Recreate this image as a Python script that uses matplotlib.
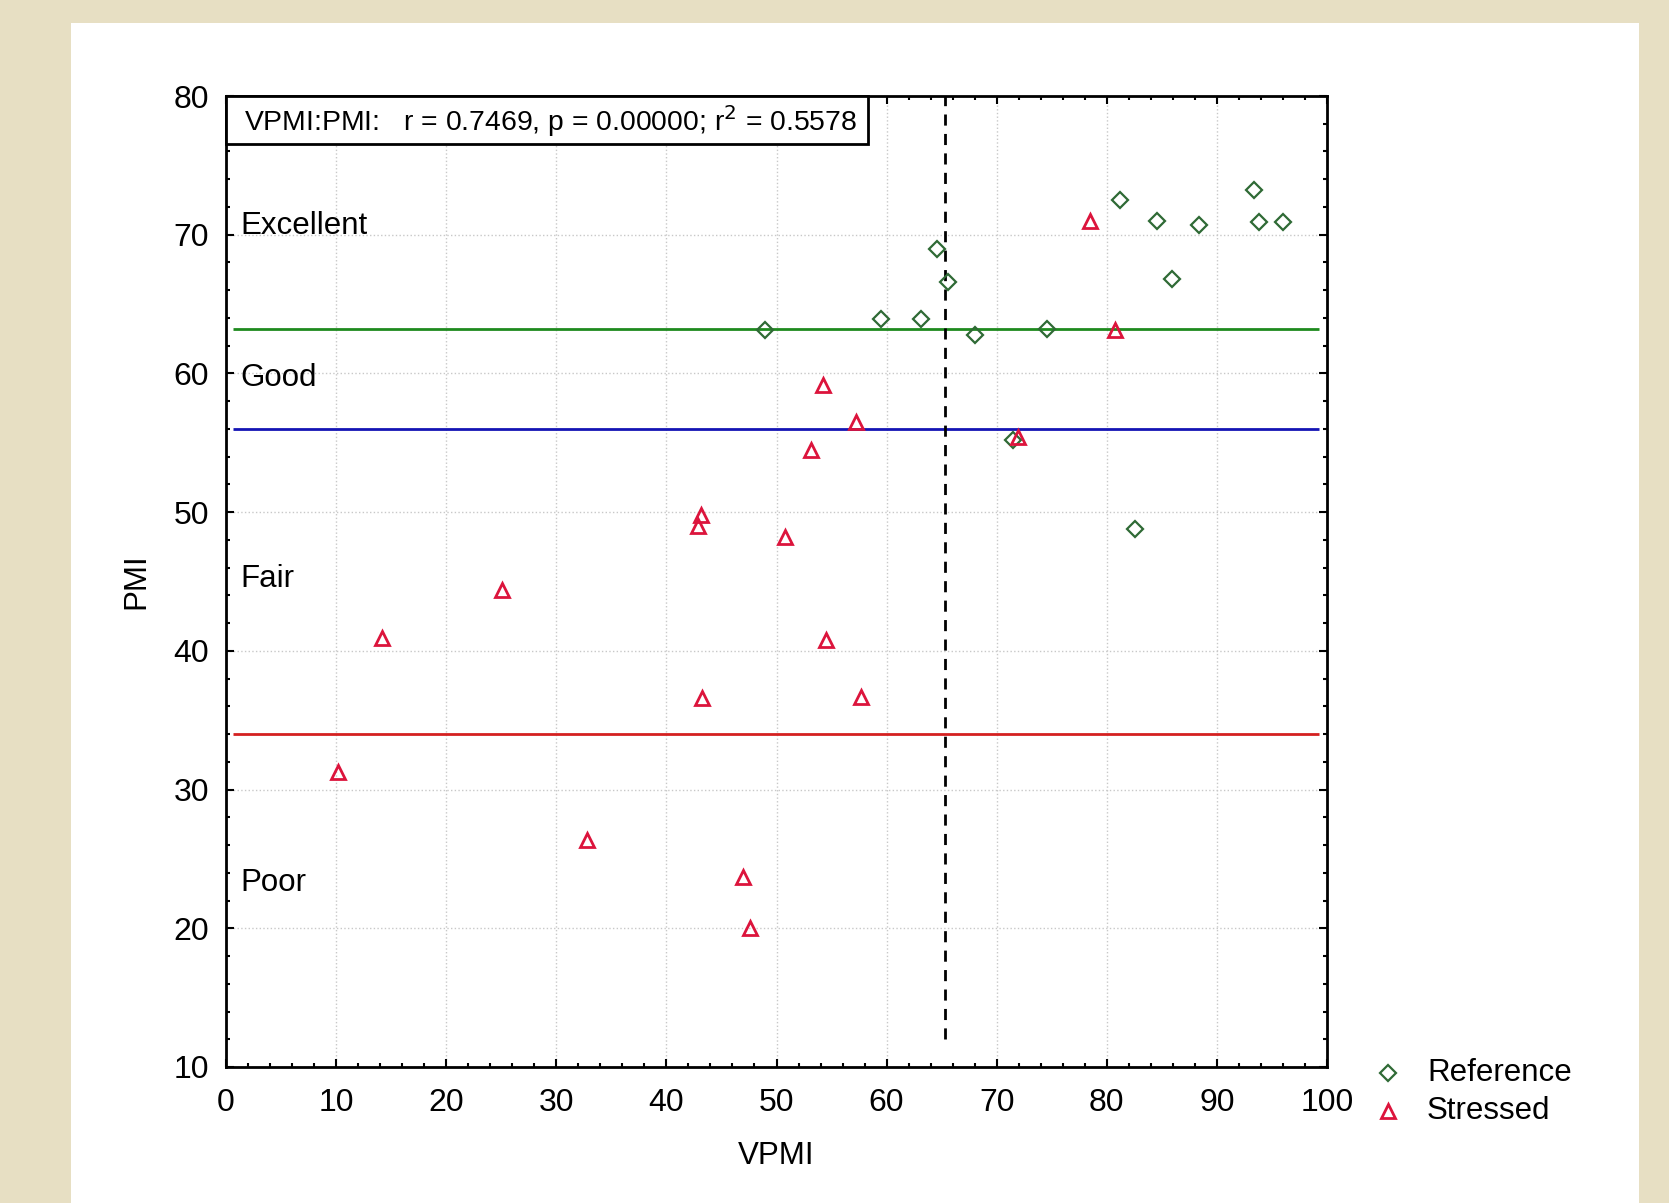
import matplotlib
matplotlib.use('Agg')
import matplotlib.pyplot as plt
from matplotlib.patches import Rectangle
from matplotlib.ticker import MultipleLocator

plt.rcParams['font.family'] = ['Liberation Sans', 'DejaVu Sans']

# Reference sites (VPMI, PMI)
ref_x = [49.0, 59.5, 63.1, 64.6, 65.6, 68.0, 74.6, 81.2, 84.6, 85.9, 88.4, 93.4, 93.8, 96.0, 82.6, 71.5]
ref_y = [63.1, 63.9, 63.9, 69.0, 66.6, 62.8, 63.2, 72.5, 71.0, 66.8, 70.7, 73.2, 70.9, 70.9, 48.8, 55.2]

# Stressed sites (VPMI, PMI)
str_x = [78.5, 80.7, 54.2, 57.2, 53.1, 71.9, 43.1, 42.9, 50.8, 25.1, 14.2, 54.5, 43.2, 57.7, 10.2, 32.8, 47.0, 47.6]
str_y = [71.0, 63.1, 59.2, 56.5, 54.5, 55.4, 49.8, 49.0, 48.2, 44.4, 40.9, 40.8, 36.6, 36.7, 31.3, 26.4, 23.7, 20.0]

# class thresholds
excellent_line = 63.2
good_line = 56.0
fair_line = 34.0
vpmi_cut = 65.3

class_names = ['Excellent', 'Good', 'Fair', 'Poor']
class_y = [70.6, 59.7, 45.2, 23.3]

stats_text = 'VPMI:PMI:   r = 0.7469, p = 0.00000; r$^2$ = 0.5578'

fig = plt.figure(figsize=(16.69, 12.03), dpi=100, facecolor='#E7DFC3')
fig.patches.append(Rectangle((71 / 1669, 0), (1639 - 71) / 1669, 1 - 23 / 1203,
                             transform=fig.transFigure, facecolor='white',
                             edgecolor='none', zorder=-10))

ax = fig.add_axes([226 / 1669, 1 - 1067 / 1203, (1327 - 226) / 1669, (1067 - 96) / 1203])
ax.set_facecolor('white')

ax.set_xlim(0, 100)
ax.set_ylim(10, 80)
ax.xaxis.set_major_locator(MultipleLocator(10))
ax.yaxis.set_major_locator(MultipleLocator(10))
ax.xaxis.set_minor_locator(MultipleLocator(2))
ax.yaxis.set_minor_locator(MultipleLocator(2))
ax.tick_params(which='both', direction='in', top=True, right=True, labelsize=23, width=1.5)
ax.tick_params(which='major', length=6)
ax.tick_params(axis='x', which='major', pad=15)
ax.tick_params(axis='y', which='major', pad=12)
ax.tick_params(which='minor', length=3)
for s in ax.spines.values():
    s.set_linewidth(2)
ax.grid(True, which='major', linestyle=':', color='#c8c8c8', linewidth=1)

ax.hlines(excellent_line, 0.6, 99.3, color='#1E8A1E', linewidth=2, zorder=2)
ax.hlines(good_line, 0.6, 99.3, color='#1414B4', linewidth=2, zorder=2)
ax.hlines(fair_line, 0.6, 99.3, color='#D42020', linewidth=2, zorder=2)
ax.vlines(vpmi_cut, 12, 80, color='black', linestyle=(0, (4, 3)), linewidth=2, zorder=2)

ax.plot(ref_x, ref_y, linestyle='none', marker='D', markersize=8.5, markeredgewidth=1.6,
        markerfacecolor='none', markeredgecolor='#2F6A35', zorder=3)
ax.plot(str_x, str_y, linestyle='none', marker='^', markersize=10, markeredgewidth=2,
        markerfacecolor='none', markeredgecolor='#DC143C', zorder=4)

for name, yv in zip(class_names, class_y):
    ax.text(1.3, yv, name, fontsize=22.5, va='center', ha='left', zorder=5)

# stats box attached to the top-left corner of the plot
ax.add_patch(Rectangle((0, 76.55), 58.3, 3.45, facecolor='white', edgecolor='black',
                       linewidth=2, zorder=6, clip_on=False))
ax.text(1.6, 78.2, stats_text, fontsize=20.4, va='center', ha='left', zorder=7)

ax.set_xlabel('VPMI', fontsize=22.5, labelpad=17)
ax.set_ylabel('PMI', fontsize=22.5, labelpad=16)

# legend outside, lower right
leg_names = ['Reference', 'Stressed']
leg_y = [-0.0062, -0.0453]
ax.plot([1.0554], [leg_y[0]], transform=ax.transAxes, clip_on=False, linestyle='none',
        marker='D', markersize=8.5, markeredgewidth=1.6, markerfacecolor='none',
        markeredgecolor='#2F6A35')
ax.plot([1.0554], [leg_y[1]], transform=ax.transAxes, clip_on=False, linestyle='none',
        marker='^', markersize=10, markeredgewidth=2, markerfacecolor='none',
        markeredgecolor='#DC143C')
for name, yv in zip(leg_names, leg_y):
    ax.text(1.0908, yv, name, transform=ax.transAxes, fontsize=22.5, va='center', ha='left')

fig.savefig('out.png', dpi=100, facecolor=fig.get_facecolor())
